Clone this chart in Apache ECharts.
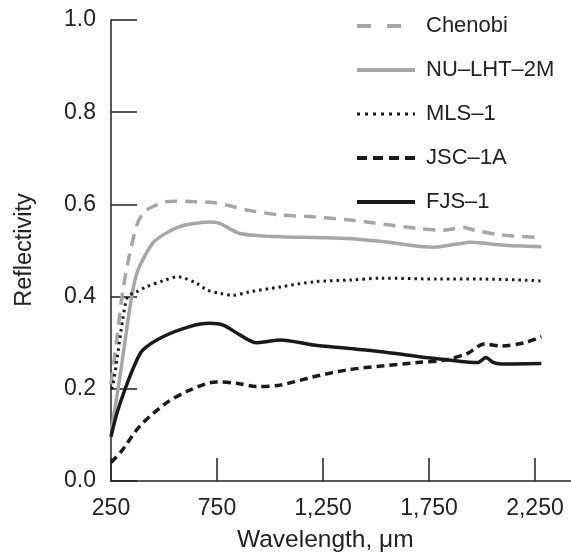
<!DOCTYPE html>
<html><head><meta charset="utf-8">
<script src="https://cdn.jsdelivr.net/npm/echarts@6/dist/echarts.min.js"></script>
<style>html,body{margin:0;padding:0;background:#fff}#c{width:571px;height:554px}</style>
</head><body><div id="c"></div>
<script>
var seriesNames = ['Chenobi', 'NU–LHT–2M', 'MLS–1', 'JSC–1A', 'FJS–1'];
var xTicks = [250, 750, 1250, 1750, 2250];
var yTicks = [0, 0.2, 0.4, 0.6, 0.8, 1.0];

var chenobi = [[250,0.21],[275,0.30],[305,0.41],[337,0.49],[376,0.56],[410,0.585],[447,0.595],[500,0.605],[550,0.607],[650,0.606],[732,0.604],[800,0.598],[890,0.588],[1048,0.577],[1205,0.573],[1380,0.566],[1537,0.557],[1695,0.548],[1821,0.544],[1916,0.550],[1964,0.544],[2090,0.534],[2280,0.528]];
var nulht = [[252,0.11],[290,0.22],[315,0.30],[337,0.37],[360,0.43],[384,0.465],[447,0.516],[500,0.535],[574,0.552],[650,0.559],[716,0.562],[763,0.559],[810,0.547],[858,0.537],[950,0.532],[1048,0.530],[1364,0.526],[1537,0.519],[1774,0.507],[1880,0.514],[1948,0.518],[2090,0.512],[2280,0.508]];
var mls = [[250,0.20],[258,0.205],[280,0.27],[305,0.349],[329,0.40],[370,0.41],[416,0.421],[500,0.435],[566,0.443],[653,0.429],[700,0.415],[763,0.407],[826,0.403],[900,0.410],[1048,0.421],[1205,0.432],[1380,0.436],[1522,0.440],[1800,0.438],[2000,0.438],[2280,0.434]];
var jsc = [[250,0.04],[300,0.065],[384,0.118],[510,0.169],[621,0.197],[748,0.215],[842,0.212],[937,0.205],[1048,0.208],[1205,0.226],[1364,0.241],[1537,0.250],[1695,0.257],[1821,0.262],[1932,0.277],[2011,0.297],[2090,0.293],[2201,0.300],[2280,0.313]];
var fjs = [[250,0.096],[280,0.15],[321,0.205],[360,0.25],[400,0.284],[495,0.313],[621,0.335],[716,0.342],[779,0.338],[858,0.317],[937,0.300],[980,0.302],[1048,0.306],[1205,0.295],[1364,0.288],[1537,0.280],[1695,0.270],[1853,0.262],[1980,0.257],[2019,0.268],[2050,0.258],[2090,0.254],[2280,0.255]];

var FONT = 'Liberation Sans, Arial, sans-serif';
var GRAY = '#a6a6a6', BLACK = '#1a1a1a';
var chart = echarts.init(document.getElementById('c'), null, {renderer: 'canvas'});
function mk(name, data, color, type, width) {
  return {
    name: name, type: 'line', data: data, smooth: 0.3, symbol: 'none', showSymbol: false,
    lineStyle: {color: color, type: type, width: width, cap: 'butt'},
    itemStyle: {color: color}, animation: false
  };
}
chart.setOption({
  animation: false,
  grid: {left: 111, right: 0, top: 20, bottom: 73, containLabel: false},
  xAxis: {
    type: 'value', min: 250, max: 2420,
    axisLine: {show: true, lineStyle: {color: '#222', width: 1.5}},
    axisTick: {show: true, inside: true, length: 23, customValues: xTicks, lineStyle: {color: '#222', width: 1.5}},
    axisLabel: {customValues: xTicks, color: '#222', fontSize: 23, fontFamily: FONT, margin: 16,
      formatter: function (v) { return v.toLocaleString('en-US'); }},
    splitLine: {show: false}
  },
  yAxis: {
    type: 'value', min: 0, max: 1, interval: 0.2,
    axisLine: {show: true, lineStyle: {color: '#222', width: 1.5}},
    axisTick: {show: true, inside: true, length: 26, lineStyle: {color: '#222', width: 1.5}},
    axisLabel: {color: '#222', fontSize: 23, fontFamily: FONT, margin: 15,
      formatter: function (v) { return v.toFixed(1); }},
    splitLine: {show: false}
  },
  legend: {
    orient: 'vertical', left: 350, top: 10, itemWidth: 58, itemHeight: 20, itemGap: 22,
    data: [
      {name: seriesNames[0], lineStyle: {type: [14, 16], width: 4, color: GRAY}},
      {name: seriesNames[1], lineStyle: {type: 'solid', width: 4, color: GRAY}},
      {name: seriesNames[2], lineStyle: {type: [3, 5], width: 3, color: BLACK}},
      {name: seriesNames[3], lineStyle: {type: [10, 6], width: 4, color: BLACK}},
      {name: seriesNames[4], lineStyle: {type: 'solid', width: 4, color: BLACK}}
    ],
    itemStyle: {opacity: 0},
    textStyle: {color: '#222', fontSize: 22, fontFamily: FONT, padding: [0, 0, 0, 6]}
  },
  graphic: [
    {type: 'text', left: 237, top: 528, style: {text: 'Wavelength, μm', fontSize: 24.5, fontFamily: FONT, fill: '#222'}},
    {type: 'text', rotation: Math.PI / 2, style: {text: 'Reflectivity', fontSize: 23.5, fontFamily: FONT, fill: '#222', textAlign: 'center', textVerticalAlign: 'middle'}, x: 25, y: 250}
  ],
  series: [
    mk(seriesNames[0], chenobi, GRAY, [12, 8], 3.5),
    mk(seriesNames[1], nulht, GRAY, 'solid', 3.5),
    mk(seriesNames[2], mls, BLACK, [2.5, 4], 3),
    mk(seriesNames[3], jsc, BLACK, [8, 5], 3.5),
    mk(seriesNames[4], fjs, BLACK, 'solid', 3.5)
  ]
});
</script></body></html>
